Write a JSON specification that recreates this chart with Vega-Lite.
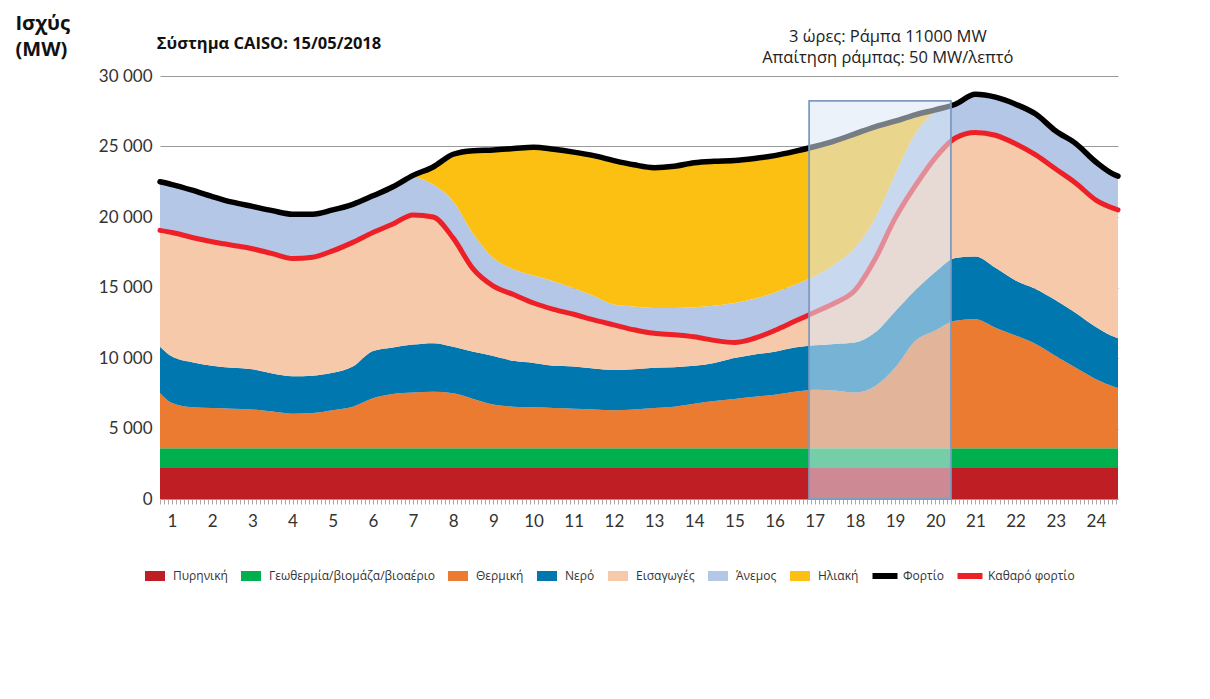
{
  "$schema": "https://vega.github.io/schema/vega-lite/v6.json",
  "width": 958,
  "height": 423,
  "autosize": "none",
  "padding": {"left": 160, "top": 76, "right": 92, "bottom": 200},
  "background": "white",
  "config": {
    "view": {"stroke": null},
    "font": "Open Sans"
  },
  "datasets": {
    "gen": [
      {"h": 0.7, "nuc": 2200, "geo": 3600, "thermal": 7500, "hydro": 10800, "net": 19050, "wind": 22500, "load": 22500},
      {"h": 1, "nuc": 2200, "geo": 3600, "thermal": 6800, "hydro": 10100, "net": 18900, "wind": 22300, "load": 22300},
      {"h": 1.5, "nuc": 2200, "geo": 3600, "thermal": 6500, "hydro": 9700, "net": 18550, "wind": 21900, "load": 21900},
      {"h": 2, "nuc": 2200, "geo": 3600, "thermal": 6450, "hydro": 9450, "net": 18250, "wind": 21450, "load": 21450},
      {"h": 2.5, "nuc": 2200, "geo": 3600, "thermal": 6400, "hydro": 9300, "net": 18000, "wind": 21050, "load": 21050},
      {"h": 3, "nuc": 2200, "geo": 3600, "thermal": 6350, "hydro": 9200, "net": 17750, "wind": 20750, "load": 20750},
      {"h": 3.5, "nuc": 2200, "geo": 3600, "thermal": 6200, "hydro": 8900, "net": 17400, "wind": 20450, "load": 20450},
      {"h": 4, "nuc": 2200, "geo": 3600, "thermal": 6050, "hydro": 8700, "net": 17050, "wind": 20200, "load": 20200},
      {"h": 4.5, "nuc": 2200, "geo": 3600, "thermal": 6100, "hydro": 8750, "net": 17150, "wind": 20200, "load": 20200},
      {"h": 5, "nuc": 2200, "geo": 3600, "thermal": 6300, "hydro": 8950, "net": 17600, "wind": 20500, "load": 20500},
      {"h": 5.5, "nuc": 2200, "geo": 3600, "thermal": 6550, "hydro": 9400, "net": 18200, "wind": 20900, "load": 20900},
      {"h": 6, "nuc": 2200, "geo": 3600, "thermal": 7150, "hydro": 10500, "net": 18900, "wind": 21500, "load": 21500},
      {"h": 6.5, "nuc": 2200, "geo": 3600, "thermal": 7450, "hydro": 10750, "net": 19500, "wind": 22150, "load": 22150},
      {"h": 7, "nuc": 2200, "geo": 3600, "thermal": 7550, "hydro": 10950, "net": 20150, "wind": 22800, "load": 22950},
      {"h": 7.5, "nuc": 2200, "geo": 3600, "thermal": 7600, "hydro": 11050, "net": 20000, "wind": 22300, "load": 23550},
      {"h": 8, "nuc": 2200, "geo": 3600, "thermal": 7500, "hydro": 10800, "net": 18500, "wind": 21100, "load": 24450},
      {"h": 8.5, "nuc": 2200, "geo": 3600, "thermal": 7100, "hydro": 10450, "net": 16300, "wind": 18800, "load": 24700},
      {"h": 9, "nuc": 2200, "geo": 3600, "thermal": 6700, "hydro": 10150, "net": 15100, "wind": 17100, "load": 24750},
      {"h": 9.5, "nuc": 2200, "geo": 3600, "thermal": 6550, "hydro": 9800, "net": 14500, "wind": 16300, "load": 24850},
      {"h": 10, "nuc": 2200, "geo": 3600, "thermal": 6500, "hydro": 9650, "net": 13900, "wind": 15850, "load": 24950},
      {"h": 10.5, "nuc": 2200, "geo": 3600, "thermal": 6450, "hydro": 9450, "net": 13450, "wind": 15450, "load": 24800},
      {"h": 11, "nuc": 2200, "geo": 3600, "thermal": 6400, "hydro": 9400, "net": 13100, "wind": 14950, "load": 24600},
      {"h": 11.5, "nuc": 2200, "geo": 3600, "thermal": 6350, "hydro": 9250, "net": 12700, "wind": 14400, "load": 24350},
      {"h": 12, "nuc": 2200, "geo": 3600, "thermal": 6300, "hydro": 9150, "net": 12350, "wind": 13800, "load": 24000},
      {"h": 12.5, "nuc": 2200, "geo": 3600, "thermal": 6350, "hydro": 9200, "net": 12000, "wind": 13650, "load": 23700},
      {"h": 13, "nuc": 2200, "geo": 3600, "thermal": 6450, "hydro": 9300, "net": 11750, "wind": 13550, "load": 23500},
      {"h": 13.5, "nuc": 2200, "geo": 3600, "thermal": 6550, "hydro": 9350, "net": 11650, "wind": 13550, "load": 23600},
      {"h": 14, "nuc": 2200, "geo": 3600, "thermal": 6750, "hydro": 9450, "net": 11500, "wind": 13600, "load": 23850},
      {"h": 14.5, "nuc": 2200, "geo": 3600, "thermal": 6950, "hydro": 9650, "net": 11250, "wind": 13700, "load": 23950},
      {"h": 15, "nuc": 2200, "geo": 3600, "thermal": 7100, "hydro": 10000, "net": 11100, "wind": 13900, "load": 24000},
      {"h": 15.5, "nuc": 2200, "geo": 3600, "thermal": 7250, "hydro": 10250, "net": 11400, "wind": 14200, "load": 24150},
      {"h": 16, "nuc": 2200, "geo": 3600, "thermal": 7400, "hydro": 10450, "net": 11950, "wind": 14650, "load": 24350},
      {"h": 16.5, "nuc": 2200, "geo": 3600, "thermal": 7600, "hydro": 10750, "net": 12600, "wind": 15200, "load": 24650},
      {"h": 17, "nuc": 2200, "geo": 3600, "thermal": 7750, "hydro": 10900, "net": 13250, "wind": 15800, "load": 25000},
      {"h": 17.5, "nuc": 2200, "geo": 3600, "thermal": 7700, "hydro": 11000, "net": 13900, "wind": 16650, "load": 25400},
      {"h": 18, "nuc": 2200, "geo": 3600, "thermal": 7550, "hydro": 11100, "net": 14800, "wind": 17800, "load": 25900},
      {"h": 18.5, "nuc": 2200, "geo": 3600, "thermal": 8000, "hydro": 11800, "net": 17000, "wind": 19900, "load": 26400},
      {"h": 19, "nuc": 2200, "geo": 3600, "thermal": 9300, "hydro": 13300, "net": 19900, "wind": 23000, "load": 26800},
      {"h": 19.5, "nuc": 2200, "geo": 3600, "thermal": 11200, "hydro": 14800, "net": 22200, "wind": 25900, "load": 27250},
      {"h": 20, "nuc": 2200, "geo": 3600, "thermal": 11950, "hydro": 16100, "net": 24200, "wind": 27450, "load": 27600},
      {"h": 20.5, "nuc": 2200, "geo": 3600, "thermal": 12650, "hydro": 17100, "net": 25600, "wind": 28000, "load": 28000},
      {"h": 21, "nuc": 2200, "geo": 3600, "thermal": 12750, "hydro": 17200, "net": 26000, "wind": 28700, "load": 28700},
      {"h": 21.5, "nuc": 2200, "geo": 3600, "thermal": 12150, "hydro": 16400, "net": 25800, "wind": 28500, "load": 28500},
      {"h": 22, "nuc": 2200, "geo": 3600, "thermal": 11600, "hydro": 15500, "net": 25200, "wind": 28000, "load": 28000},
      {"h": 22.5, "nuc": 2200, "geo": 3600, "thermal": 11000, "hydro": 14900, "net": 24400, "wind": 27300, "load": 27300},
      {"h": 23, "nuc": 2200, "geo": 3600, "thermal": 10150, "hydro": 14100, "net": 23400, "wind": 26100, "load": 26100},
      {"h": 23.5, "nuc": 2200, "geo": 3600, "thermal": 9300, "hydro": 13200, "net": 22400, "wind": 25200, "load": 25200},
      {"h": 24, "nuc": 2200, "geo": 3600, "thermal": 8500, "hydro": 12200, "net": 21200, "wind": 23900, "load": 23900},
      {"h": 24.5, "nuc": 2200, "geo": 3600, "thermal": 7900, "hydro": 11450, "net": 20550, "wind": 22950, "load": 22950},
      {"h": 24.55, "nuc": 2200, "geo": 3600, "thermal": 7850, "hydro": 11400, "net": 20500, "wind": 22900, "load": 22900}
    ]
  },
  "layer": [
    {
      "data": {"name": "gen"},
      "mark": {"type": "area", "interpolate": "monotone"},
      "encoding": {
        "x": {
          "field": "h",
          "type": "quantitative",
          "scale": {"domain": [0.7, 24.55], "nice": false, "zero": false},
          "axis": {
            "tickCount": 240,
            "labelExpr": "datum.value % 1 === 0 ? '' + datum.value : ''",
            "labelOverlap": false,
            "labelFlush": false,
            "grid": false,
            "domain": false,
            "tickColor": "#a8a8a8",
            "tickSize": 5,
            "tickWidth": 1,
            "labelFont": "Lato",
            "labelFontSize": 17,
            "labelColor": "#333333",
            "labelPadding": 9,
            "title": null
          }
        },
        "y": {
          "field": "nuc",
          "type": "quantitative",
          "scale": {"domain": [0, 30000], "nice": false, "zero": true},
          "axis": {
            "values": [0, 5000, 10000, 15000, 20000, 25000, 30000],
            "labelExpr": "replace(format(datum.value, ','), ',', ' ')",
            "grid": true,
            "gridColor": "#9a9a9a",
            "gridWidth": 1,
            "domain": false,
            "ticks": false,
            "labelFont": "Lato",
            "labelFontSize": 17,
            "labelColor": "#333333",
            "labelPadding": 8,
            "title": ["Ισχύς", "(MW)"],
            "titleAngle": 0,
            "titleAlign": "left",
            "titleBaseline": "alphabetic",
            "titleX": -145,
            "titleY": -47,
            "titleFont": "Open Sans",
            "titleFontSize": 20,
            "titleFontWeight": "bold",
            "titleColor": "#111111",
            "titleLineHeight": 26
          }
        },
        "y2": {"datum": 0},
        "color": {
          "datum": "Πυρηνική",
          "scale": {
            "domain": ["Πυρηνική", "Γεωθερμία/βιομάζα/βιοαέριο", "Θερμική", "Νερό", "Εισαγωγές", "Άνεμος", "Ηλιακή", "Φορτίο", "Καθαρό φορτίο"],
            "range": ["#be1e24", "#00b04f", "#eb7b30", "#0077ae", "#f7c9ab", "#b4c7e6", "#fcc012", "#000000", "#ee2027"]
          },
          "legend": {
            "title": null,
            "orient": "none",
            "legendX": -15,
            "legendY": 490,
            "direction": "horizontal",
            "columns": 9,
            "symbolSize": 400,
            "symbolStrokeWidth": 0,
            "symbolType": "M-1,-0.5L1,-0.5L1,0.5L-1,0.5Z",
            "labelFont": "Open Sans",
            "labelFontSize": 12,
            "labelColor": "#333333",
            "labelOffset": 8,
            "labelLimit": 0,
            "columnPadding": 13,
            "encode": {
              "symbols": {
                "update": {
                  "shape": {"signal": "(datum.value === 'Φορτίο' || datum.value === 'Καθαρό φορτίο') ? 'M-1.25,-0.3L1.25,-0.3L1.25,0.3L-1.25,0.3Z' : 'M-1,-0.5L1,-0.5L1,0.5L-1,0.5Z'"},
                  "fill": {"scale": "color", "field": "value"},
                  "stroke": {"value": "transparent"}
                }
              }
            }
          }
        }
      }
    },
    {
      "data": {"name": "gen"},
      "mark": {"type": "area", "interpolate": "monotone"},
      "encoding": {
        "x": {"field": "h", "type": "quantitative"},
        "y": {"field": "geo", "type": "quantitative"},
        "y2": {"field": "nuc"},
        "color": {"datum": "Γεωθερμία/βιομάζα/βιοαέριο"}
      }
    },
    {
      "data": {"name": "gen"},
      "mark": {"type": "area", "interpolate": "monotone"},
      "encoding": {
        "x": {"field": "h", "type": "quantitative"},
        "y": {"field": "thermal", "type": "quantitative"},
        "y2": {"field": "geo"},
        "color": {"datum": "Θερμική"}
      }
    },
    {
      "data": {"name": "gen"},
      "mark": {"type": "area", "interpolate": "monotone"},
      "encoding": {
        "x": {"field": "h", "type": "quantitative"},
        "y": {"field": "hydro", "type": "quantitative"},
        "y2": {"field": "thermal"},
        "color": {"datum": "Νερό"}
      }
    },
    {
      "data": {"name": "gen"},
      "mark": {"type": "area", "interpolate": "monotone"},
      "encoding": {
        "x": {"field": "h", "type": "quantitative"},
        "y": {"field": "net", "type": "quantitative"},
        "y2": {"field": "hydro"},
        "color": {"datum": "Εισαγωγές"}
      }
    },
    {
      "data": {"name": "gen"},
      "mark": {"type": "area", "interpolate": "monotone"},
      "encoding": {
        "x": {"field": "h", "type": "quantitative"},
        "y": {"field": "wind", "type": "quantitative"},
        "y2": {"field": "net"},
        "color": {"datum": "Άνεμος"}
      }
    },
    {
      "data": {"name": "gen"},
      "mark": {"type": "area", "interpolate": "monotone"},
      "encoding": {
        "x": {"field": "h", "type": "quantitative"},
        "y": {"field": "load", "type": "quantitative"},
        "y2": {"field": "wind"},
        "color": {"datum": "Ηλιακή"}
      }
    },
    {
      "data": {"name": "gen"},
      "mark": {"type": "line", "interpolate": "monotone", "strokeWidth": 5.5, "strokeCap": "round", "strokeJoin": "round"},
      "encoding": {
        "x": {"field": "h", "type": "quantitative"},
        "y": {"field": "load", "type": "quantitative"},
        "color": {"datum": "Φορτίο"}
      }
    },
    {
      "data": {"name": "gen"},
      "mark": {"type": "line", "interpolate": "monotone", "strokeWidth": 5, "strokeCap": "round", "strokeJoin": "round"},
      "encoding": {
        "x": {"field": "h", "type": "quantitative"},
        "y": {"field": "net", "type": "quantitative"},
        "color": {"datum": "Καθαρό φορτίο"}
      }
    },
    {
      "data": {"values": [{"box": "ramp"}]},
      "mark": {"type": "rect", "fill": "#dae7f6", "fillOpacity": 0.54, "stroke": "#7e9bc0", "strokeWidth": 1.8},
      "encoding": {
        "x": {"datum": 16.86},
        "x2": {"datum": 20.39},
        "y": {"datum": 28230},
        "y2": {"datum": 0}
      }
    },
    {
      "data": {"values": [{"note": "Σύστημα CAISO: 15/05/2018"}]},
      "mark": {"type": "text", "font": "Open Sans", "fontSize": 16.5, "fontWeight": "bold", "align": "left", "baseline": "alphabetic", "color": "#111111"},
      "encoding": {
        "x": {"datum": 0.62},
        "y": {"datum": 31915},
        "text": {"field": "note"}
      }
    },
    {
      "data": {"values": [{"note": ["3 ώρες: Ράμπα 11000 MW", "Απαίτηση ράμπας: 50 MW/λεπτό"]}]},
      "mark": {"type": "text", "font": "Open Sans", "fontSize": 16.5, "align": "center", "baseline": "alphabetic", "color": "#222222", "lineHeight": 21},
      "encoding": {
        "x": {"datum": 18.82},
        "y": {"datum": 32410},
        "text": {"field": "note"}
      }
    }
  ]
}
